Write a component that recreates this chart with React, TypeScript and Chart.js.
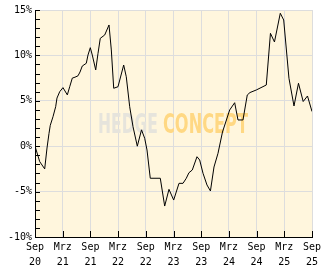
import React, { useEffect, useRef } from "react";
import { Chart, registerables } from "chart.js";

Chart.register(...registerables);

// months since Sep 2020
const months = [0, 1.02, 2.1, 2.6, 3.03, 3.31, 3.9, 4.48, 4.76, 5.35, 6.06, 7.0, 7.52, 8.08, 8.66, 9.31, 9.75, 10.24, 11.11, 11.48, 11.98, 12.41, 13.15, 13.65, 14.14, 15.1, 16.03, 16.53, 17.05, 17.98, 19.21, 19.77, 20.51, 21.23, 22.16, 23.07, 23.76, 24.26, 24.97, 27.14, 28.09, 29.02, 30.04, 31.19, 32.06, 32.77, 33.35, 34.07, 35.09, 35.67, 36.39, 37.25, 38.0, 38.77, 39.64, 40.61, 42.17, 43.25, 43.97, 45.05, 45.98, 46.57, 47.93, 50.1, 51.0, 51.87, 53.13, 53.87, 55.01, 56.1, 57.07, 58.09, 59.02, 60];
// performance in %
const values = [0, -1.7, -2.5, -0.2, 1.4, 2.3, 3.25, 4.35, 5.3, 6.0, 6.45, 5.65, 6.55, 7.5, 7.6, 7.75, 8.17, 8.83, 9.13, 10.04, 10.85, 10.04, 8.4, 10.23, 11.88, 12.25, 13.35, 10.6, 6.38, 6.55, 8.94, 7.65, 4.35, 2.15, 0.0, 1.8, 0.87, -0.42, -3.53, -3.53, -6.59, -4.75, -5.93, -4.09, -4.09, -3.53, -2.92, -2.62, -1.16, -1.52, -2.98, -4.27, -4.93, -2.29, -0.78, 1.56, 3.99, 4.79, 2.89, 2.89, 5.64, 5.91, 6.19, 6.74, 12.43, 11.48, 14.64, 13.9, 7.48, 4.43, 6.93, 4.92, 5.53, 3.82];

const xTickMonths = ["Sep", "Mrz", "Sep", "Mrz", "Sep", "Mrz", "Sep", "Mrz", "Sep", "Mrz", "Sep"];
const xTickYears = ["20", "21", "21", "22", "22", "23", "23", "24", "24", "25", "25"];
const yTickValues = [-10, -5, 0, 5, 10, 15];

const FONT = "'DejaVu Sans Mono', monospace";

const innerTicks = {
  id: "innerTicks",
  afterDatasetsDraw(chart: any) {
    const { ctx, chartArea } = chart;
    const xs = chart.scales.x;
    const ys = chart.scales.y;
    ctx.save();
    ctx.strokeStyle = "#000";
    ctx.lineWidth = 1;
    ctx.beginPath();
    xs.ticks.forEach((t: any) => {
      const px = Math.round(xs.getPixelForValue(t.value)) + 0.5;
      ctx.moveTo(px, chartArea.bottom);
      ctx.lineTo(px, chartArea.bottom - 6);
    });
    ys.ticks.forEach((t: any) => {
      const py = Math.round(ys.getPixelForValue(t.value)) + 0.5;
      ctx.moveTo(chartArea.left, py);
      ctx.lineTo(chartArea.left + 5, py);
    });
    ctx.stroke();
    ctx.restore();
  },
};

const bgAndWatermark = {
  id: "bgAndWatermark",
  beforeDraw(chart: any) {
    const { ctx, chartArea } = chart;
    ctx.save();
    ctx.fillStyle = "#fff6dd";
    ctx.fillRect(chartArea.left, chartArea.top, chartArea.right - chartArea.left, chartArea.bottom - chartArea.top);
    ctx.restore();
  },
  beforeDatasetsDraw(chart: any) {
    const { ctx, chartArea } = chart;
    ctx.save();
    ctx.font = "bold 26px 'Liberation Sans Narrow', 'DejaVu Sans Condensed', sans-serif";
    ctx.textBaseline = "alphabetic";
    const drawFit = (text: string, x: number, w: number, color: string) => {
      const m = ctx.measureText(text).width;
      ctx.save();
      ctx.translate(x, chartArea.top + 123);
      ctx.scale(w / m, 1);
      ctx.fillStyle = color;
      ctx.fillText(text, 0, 0);
      ctx.restore();
    };
    drawFit("HEDGE", chartArea.left + 63, 60, "#e6e4dc");
    drawFit("CONCEPT", chartArea.left + 128, 85, "#ffd883");
    ctx.restore();
  },
};

export default function App() {
  const ref = useRef<HTMLCanvasElement>(null);
  useEffect(() => {
    document.body.style.margin = "0";
    const chart = new Chart(ref.current!, {
      type: "line",
      data: {
        datasets: [
          {
            data: months.map((m, i) => ({ x: m, y: values[i] })),
            borderColor: "#000",
            borderWidth: 1,
            pointRadius: 0,
            tension: 0,
            fill: false,
          },
        ],
      },
      options: {
        animation: false,
        responsive: false,
        events: [],
        layout: { padding: { top: 10, right: 20, left: 0, bottom: 0 } },
        plugins: { legend: { display: false }, tooltip: { enabled: false } },
        scales: {
          x: {
            type: "linear",
            min: 0,
            max: 60,
            afterBuildTicks: (s: any) => {
              s.ticks = xTickMonths.map((_, i) => ({ value: i * 6 }));
            },
            afterFit: (s: any) => {
              s.height = 32;
            },
            grid: { color: "#dddddd", drawTicks: false, lineWidth: 1 },
            border: { color: "#000", width: 1 },
            ticks: {
              autoSkip: false,
              maxRotation: 0,
              padding: 3,
              color: "#000",
              font: { family: FONT, size: 10, lineHeight: 1.5 },
              callback: (v: any) => {
                const i = Math.round(Number(v) / 6);
                return [xTickMonths[i], xTickYears[i]];
              },
            },
          },
          y: {
            min: -10,
            max: 15,
            afterBuildTicks: (s: any) => {
              const t: any[] = [];
              for (let v = -10; v <= 15; v++) t.push({ value: v });
              s.ticks = t;
            },
            afterFit: (s: any) => {
              s.width = 35;
            },
            grid: {
              drawTicks: false,
              color: (c: any) =>
                c.tick && yTickValues.includes(c.tick.value) ? "#dddddd" : "rgba(0,0,0,0)",
            },
            border: { color: "#000", width: 1 },
            ticks: {
              autoSkip: false,
              padding: 3,
              color: "#000",
              font: { family: FONT, size: 10 },
              callback: (v: any) => (yTickValues.includes(Number(v)) ? v + "%" : ""),
            },
          },
        },
      },
      plugins: [bgAndWatermark, innerTicks],
    });
    return () => chart.destroy();
  }, []);
  return (
    <div style={{ position: "absolute", left: 0, top: 0, width: 332, height: 269 }}>
      <canvas ref={ref} width={332} height={269} />
    </div>
  );
}
